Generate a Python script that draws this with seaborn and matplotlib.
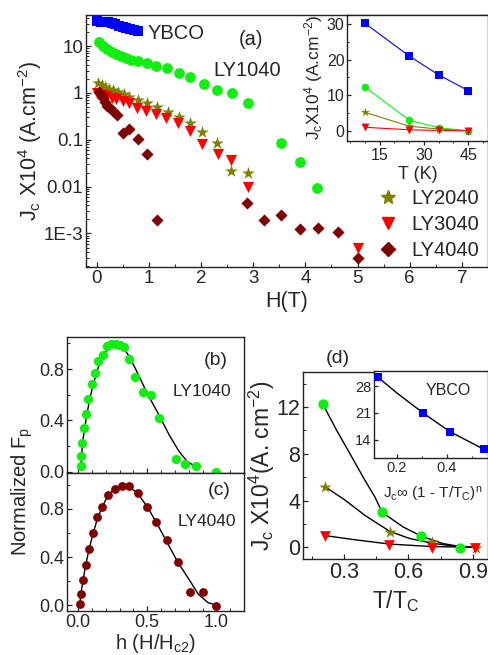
import matplotlib
matplotlib.use("Agg")
import matplotlib.pyplot as plt
from matplotlib.ticker import MultipleLocator, FixedLocator, FixedFormatter, LogLocator, NullFormatter
from matplotlib.lines import Line2D
import seaborn as sns

# ---------------- datos ----------------
# (a) Jc(H) a 10 K
h_ybco = [0.01, 0.08, 0.15, 0.22, 0.29, 0.36, 0.43, 0.50, 0.57, 0.64, 0.71, 0.79]
j_ybco = [34, 33.5, 33, 32, 30.5, 29, 27.5, 26, 24.5, 23, 22, 20.7]

h_ly1040 = [0.05, 0.13, 0.20, 0.29, 0.37, 0.46, 0.56, 0.67, 0.79, 0.97, 1.14, 1.35,
            1.58, 1.79, 2.05, 2.30, 2.60, 2.90, 3.54, 3.89, 4.23]
j_ly1040 = [12.5, 10.3, 8.6, 7.6, 6.8, 6.2, 5.5, 5.1, 4.7, 4.3, 3.8, 3.4,
            2.7, 2.2, 1.56, 1.14, 0.98, 0.60, 0.087, 0.034, 0.0095]

h_ly2040 = [0.03, 0.10, 0.16, 0.24, 0.32, 0.41, 0.52, 0.63, 0.79, 0.97, 1.16, 1.37,
            1.58, 1.80, 2.03, 2.31, 2.58, 2.90]
j_ly2040 = [1.61, 1.48, 1.36, 1.22, 1.16, 1.03, 0.94, 0.83, 0.71, 0.60, 0.51, 0.40,
            0.31, 0.224, 0.149, 0.086, 0.022, 0.0196]

h_ly3040 = [0.0, 0.10, 0.19, 0.29, 0.38, 0.50, 0.62, 0.78, 0.95, 1.14, 1.33, 1.56,
            1.79, 2.03, 2.32, 2.58, 2.90, 5.01]
j_ly3040 = [0.98, 0.91, 0.88, 0.79, 0.74, 0.67, 0.60, 0.48, 0.41, 0.355, 0.29, 0.224,
            0.154, 0.080, 0.049, 0.037, 0.0099, 0.0005]

h_ly4040 = [0.05, 0.10, 0.13, 0.16, 0.20, 0.25, 0.32, 0.39, 0.51, 0.63, 0.79, 0.97,
            1.16, 2.89, 3.21, 3.54, 3.89, 4.25, 4.62, 5.01]
j_ly4040 = [1.07, 0.91, 0.77, 0.63, 0.53, 0.47, 0.41, 0.34, 0.137, 0.17, 0.104, 0.049,
            0.0019, 0.0045, 0.0019, 0.0025, 0.00127, 0.00131, 0.00108, 0.000297]

# inserto (a): Jc(T)
t_k = [10, 25, 35, 45]
jt_ybco = [30.2, 21.0, 15.7, 11.3]
jt_ly1040 = [12.3, 3.0, 0.9, 0.0]
jt_ly2040 = [5.2, 1.3, 0.5, 0.0]
jt_ly3040 = [1.0, 0.3, 0.1, 0.0]

# (b) fuerza de anclaje normalizada LY1040
hb = [0.021, 0.021, 0.031, 0.045, 0.057, 0.074, 0.098, 0.12, 0.145, 0.18, 0.21, 0.24,
      0.276, 0.305, 0.33, 0.37, 0.414, 0.47, 0.526, 0.586, 0.71, 0.776, 0.85, 0.995]
fpb = [0.04, 0.12, 0.22, 0.34, 0.45, 0.57, 0.68, 0.77, 0.86, 0.91, 0.98, 0.995,
       0.995, 0.99, 0.97, 0.88, 0.74, 0.62, 0.60, 0.42, 0.10, 0.06, 0.04, 0.0]
fit_hb = [0.021, 0.026, 0.038, 0.057, 0.081, 0.11, 0.145, 0.18, 0.217, 0.264, 0.30,
          0.33, 0.37, 0.43, 0.50, 0.586, 0.657, 0.729, 0.788, 0.85]
fit_fpb = [0.03, 0.14, 0.27, 0.40, 0.55, 0.68, 0.81, 0.90, 0.96, 0.995, 0.99,
           0.96, 0.90, 0.77, 0.61, 0.44, 0.29, 0.16, 0.08, 0.04]

# (c) LY4040
hc = [0.017, 0.02, 0.038, 0.057, 0.081, 0.11, 0.138, 0.176, 0.217, 0.264, 0.317,
      0.371, 0.431, 0.495, 0.567, 0.645, 0.724, 0.807, 0.90, 0.995]
fpc = [0.01, 0.09, 0.205, 0.33, 0.465, 0.60, 0.736, 0.814, 0.916, 0.966, 0.99,
       0.99, 0.93, 0.82, 0.695, 0.54, 0.36, 0.11, 0.11, -0.005]
fit_hc = [0.012, 0.02, 0.035, 0.055, 0.08, 0.11, 0.14, 0.18, 0.22, 0.27, 0.32, 0.37,
          0.43, 0.50, 0.57, 0.64, 0.72, 0.81, 0.87, 0.94, 1.0]
fit_fpc = [0.0, 0.09, 0.2, 0.33, 0.47, 0.60, 0.72, 0.83, 0.92, 0.975, 1.0, 0.985,
           0.93, 0.82, 0.68, 0.53, 0.36, 0.2, 0.09, 0.02, 0.0]

# (d) Jc vs T/Tc
td_ly1040 = [0.20, 0.477, 0.66, 0.84]
jd_ly1040 = [12.3, 3.0, 0.97, -0.1]
td_ly2040 = [0.213, 0.514, 0.71, 0.914]
jd_ly2040 = [5.17, 1.31, 0.45, -0.06]
td_ly3040 = [0.213, 0.51, 0.71, 0.91]
jd_ly3040 = [1.0, 0.2, -0.05, -0.1]
fit_t1040 = [0.20, 0.266, 0.328, 0.397, 0.444, 0.477, 0.575, 0.66, 0.76, 0.852, 0.92]
fit_j1040 = [12.3, 10.0, 8.0, 5.74, 4.3, 3.0, 1.74, 0.95, 0.32, 0.03, 0.0]
fit_t2040 = [0.213, 0.30, 0.40, 0.514, 0.606, 0.71, 0.82, 0.92]
fit_j2040 = [5.17, 4.1, 2.7, 1.35, 0.75, 0.35, 0.08, 0.0]
fit_t3040 = [0.213, 0.328, 0.51, 0.71, 0.92]
fit_j3040 = [1.0, 0.7, 0.28, 0.06, 0.0]

# inserto (d): YBCO
td_ybco = [0.124, 0.305, 0.411, 0.547]
jd_ybco = [30.3, 21.0, 16.0, 11.6]
fit_td_ybco = [0.124, 0.2, 0.305, 0.411, 0.547]
fit_jd_ybco = [30.3, 26.2, 21.0, 16.2, 11.6]

# ---------------- estilo ----------------
AZUL = "#0000ff"
VERDE = "#11ee11"
OLIVA = "#808000"
ROJO = "#ff0000"
GRANATE = "#800000"

sns.set_style("ticks")
plt.rcParams['font.family'] = ['Liberation Sans', 'DejaVu Sans']
plt.rcParams['mathtext.fontset'] = 'custom'
plt.rcParams['mathtext.rm'] = 'Liberation Sans'
plt.rcParams['mathtext.it'] = 'Liberation Sans'
plt.rcParams['mathtext.default'] = 'regular'
plt.rcParams['xtick.direction'] = 'in'
plt.rcParams['ytick.direction'] = 'in'
plt.rcParams['axes.edgecolor'] = '#222222'
plt.rcParams['axes.linewidth'] = 1.0


def puntos(ax, x, y, color, marker, s):
    sns.scatterplot(x=x, y=y, color=color, marker=marker, s=s, linewidth=0,
                    ax=ax, legend=False, zorder=3, clip_on=False)


def curva(ax, x, y, color="black", lw=1.0):
    sns.lineplot(x=x, y=y, color=color, lw=lw, sort=False, estimator=None,
                 ax=ax, legend=False, zorder=2)


def ticks(ax, size, major=3.5, minor=2.0):
    ax.tick_params(which='major', length=major, width=0.9, labelsize=size, pad=2)
    ax.tick_params(which='minor', length=minor, width=0.7)


fig = plt.figure(figsize=(4.89, 6.55), dpi=100)

# ---------------- (a) ----------------
ax_a = fig.add_axes([0.176, 0.592, 0.822, 0.385])
puntos(ax_a, h_ybco, j_ybco, AZUL, 's', 45)
puntos(ax_a, h_ly1040, j_ly1040, VERDE, 'o', 60)
puntos(ax_a, h_ly2040, j_ly2040, OLIVA, '*', 90)
puntos(ax_a, h_ly3040, j_ly3040, ROJO, 'v', 65)
puntos(ax_a, h_ly4040, j_ly4040, GRANATE, 'D', 38)
ax_a.set_yscale('log')
ax_a.set_xlim(-0.2, 7.5)
ax_a.set_ylim(1.9e-4, 46)
ax_a.yaxis.set_major_locator(FixedLocator([1e-3, 1e-2, 0.1, 1, 10]))
ax_a.yaxis.set_major_formatter(FixedFormatter(['1E-3', '0.01', '0.1', '1', '10']))
ax_a.yaxis.set_minor_locator(LogLocator(base=10, subs=range(2, 10), numticks=20))
ax_a.yaxis.set_minor_formatter(NullFormatter())
ax_a.xaxis.set_major_locator(MultipleLocator(1))
ax_a.xaxis.set_minor_locator(MultipleLocator(0.5))
ticks(ax_a, 13.5)
ax_a.set_xlabel('H(T)', fontsize=15.5, labelpad=3)
ax_a.set_ylabel(r'J$_c$ X10$^4$ (A.cm$^{-2}$)', fontsize=15.5, labelpad=0)
ax_a.text(0.225, 0.925, 'YBCO', transform=ax_a.transAxes, fontsize=14.5, ha='center', va='center')
ax_a.text(0.41, 0.905, '(a)', transform=ax_a.transAxes, fontsize=14.5, ha='center', va='center')
ax_a.text(0.40, 0.78, 'LY1040', transform=ax_a.transAxes, fontsize=14.5, ha='center', va='center')
manijas = [Line2D([], [], ls='none', marker='*', color=OLIVA, markersize=10),
           Line2D([], [], ls='none', marker='v', color=ROJO, markersize=9),
           Line2D([], [], ls='none', marker='D', color=GRANATE, markersize=7)]
ax_a.legend(manijas, ['LY2040', 'LY3040', 'LY4040'], loc='upper left',
            bbox_to_anchor=(0.772, 0.712), bbox_transform=fig.transFigure,
            frameon=False, fontsize=14.5, handlelength=1.0, handletextpad=0.7,
            labelspacing=0.35, borderpad=0, borderaxespad=0)

# inserto (a)
ax_ai = fig.add_axes([0.710, 0.785, 0.288, 0.192])
for yv, col, mk, s in [(jt_ybco, AZUL, 's', 28), (jt_ly1040, VERDE, 'o', 30),
                       (jt_ly2040, OLIVA, '*', 45), (jt_ly3040, ROJO, 'v', 32)]:
    curva(ax_ai, t_k, yv, color=col, lw=0.8)
    puntos(ax_ai, t_k, yv, col, mk, s)
ax_ai.set_xlim(4, 51.7)
ax_ai.set_ylim(-2.8, 32.5)
ax_ai.xaxis.set_major_locator(FixedLocator([15, 30, 45]))
ax_ai.xaxis.set_minor_locator(MultipleLocator(5))
ax_ai.yaxis.set_major_locator(FixedLocator([0, 10, 20, 30]))
ax_ai.yaxis.set_minor_locator(MultipleLocator(5))
ticks(ax_ai, 11.5, major=3, minor=1.5)
ax_ai.tick_params(axis='x', which='both', direction='out')
ax_ai.set_xlabel('T (K)', fontsize=13, labelpad=2)
ax_ai.set_ylabel(r'J$_c$X10$^4$ (A.cm$^{-2}$)', fontsize=12.5, labelpad=1)

# ---------------- (b) y (c) ----------------
ax_b = fig.add_axes([0.137, 0.278, 0.362, 0.2075])
ax_c = fig.add_axes([0.137, 0.067, 0.362, 0.211], sharex=ax_b)
curva(ax_b, fit_hb, fit_fpb)
puntos(ax_b, hb, fpb, VERDE, 'o', 45)
curva(ax_c, fit_hc, fit_fpc)
puntos(ax_c, hc, fpc, GRANATE, 'o', 40)
ax_b.set_xlim(-0.08, 1.2)
ax_b.set_ylim(-0.01, 1.05)
ax_c.set_ylim(-0.05, 1.1)
for ax in (ax_b, ax_c):
    ax.xaxis.set_major_locator(FixedLocator([0.0, 0.5, 1.0]))
    ax.xaxis.set_minor_locator(MultipleLocator(0.1))
    ax.yaxis.set_major_locator(FixedLocator([0.0, 0.4, 0.8]))
    ax.yaxis.set_minor_locator(MultipleLocator(0.2))
    ax.yaxis.set_major_formatter(FixedFormatter(['0.0', '0.4', '0.8']))
    ticks(ax, 13)
ax_b.tick_params(labelbottom=False)
ax_c.xaxis.set_major_formatter(FixedFormatter(['0.0', '0.5', '1.0']))
ax_c.set_xlabel(r'h (H/H$_{c2}$)', fontsize=14.5, labelpad=1)
ax_b.text(0.84, 0.83, '(b)', transform=ax_b.transAxes, fontsize=14, ha='center', va='center')
ax_b.text(0.76, 0.60, 'LY1040', transform=ax_b.transAxes, fontsize=12.5, ha='center', va='center')
ax_c.text(0.86, 0.87, '(c)', transform=ax_c.transAxes, fontsize=14, ha='center', va='center')
ax_c.text(0.79, 0.65, 'LY4040', transform=ax_c.transAxes, fontsize=12.5, ha='center', va='center')
fig.text(0.045, 0.25, r'Normalized F$_p$', rotation=90, fontsize=14.5, ha='center', va='center')

# ---------------- (d) ----------------
ax_d = fig.add_axes([0.620, 0.1466, 0.378, 0.2854])
curva(ax_d, fit_t1040, fit_j1040)
curva(ax_d, fit_t2040, fit_j2040)
curva(ax_d, fit_t3040, fit_j3040)
puntos(ax_d, td_ly1040, jd_ly1040, VERDE, 'o', 55)
puntos(ax_d, td_ly2040, jd_ly2040, OLIVA, '*', 85)
puntos(ax_d, td_ly3040, jd_ly3040, ROJO, 'v', 60)
ax_d.set_xlim(0.11, 0.97)
ax_d.set_ylim(-1.0, 15.0)
ax_d.xaxis.set_major_locator(FixedLocator([0.3, 0.6, 0.9]))
ax_d.xaxis.set_minor_locator(MultipleLocator(0.15))
ax_d.yaxis.set_major_locator(FixedLocator([0, 4, 8, 12]))
ax_d.yaxis.set_minor_locator(MultipleLocator(2))
ticks(ax_d, 15.5)
ax_d.set_xlabel(r'T/T$_C$', fontsize=16.5, labelpad=4)
ax_d.set_ylabel(r'J$_c$ X10$^4$(A. cm$^{-2}$)', fontsize=16.5, labelpad=0)
ax_d.text(0.19, 1.075, '(d)', transform=ax_d.transAxes, fontsize=14, ha='center', va='center')
ax_d.text(0.70, 0.345, r'J$_c$$\infty$ (1 - T/T$_C$)$^n$', transform=ax_d.transAxes,
          fontsize=11, ha='center', va='center')

# inserto (d)
ax_di = fig.add_axes([0.765, 0.3008, 0.233, 0.1328])
curva(ax_di, fit_td_ybco, fit_jd_ybco)
puntos(ax_di, td_ybco, jd_ybco, AZUL, 's', 32)
ax_di.set_xlim(0.109, 0.565)
ax_di.set_ylim(9.3, 31.9)
ax_di.xaxis.set_major_locator(FixedLocator([0.2, 0.4]))
ax_di.xaxis.set_minor_locator(MultipleLocator(0.1))
ax_di.yaxis.set_major_locator(FixedLocator([14, 21, 28]))
ticks(ax_di, 10.5, major=3, minor=1.5)
ax_di.text(0.65, 0.78, 'YBCO', transform=ax_di.transAxes, fontsize=11.5, ha='center', va='center')

fig.savefig('out.png', dpi=100)
